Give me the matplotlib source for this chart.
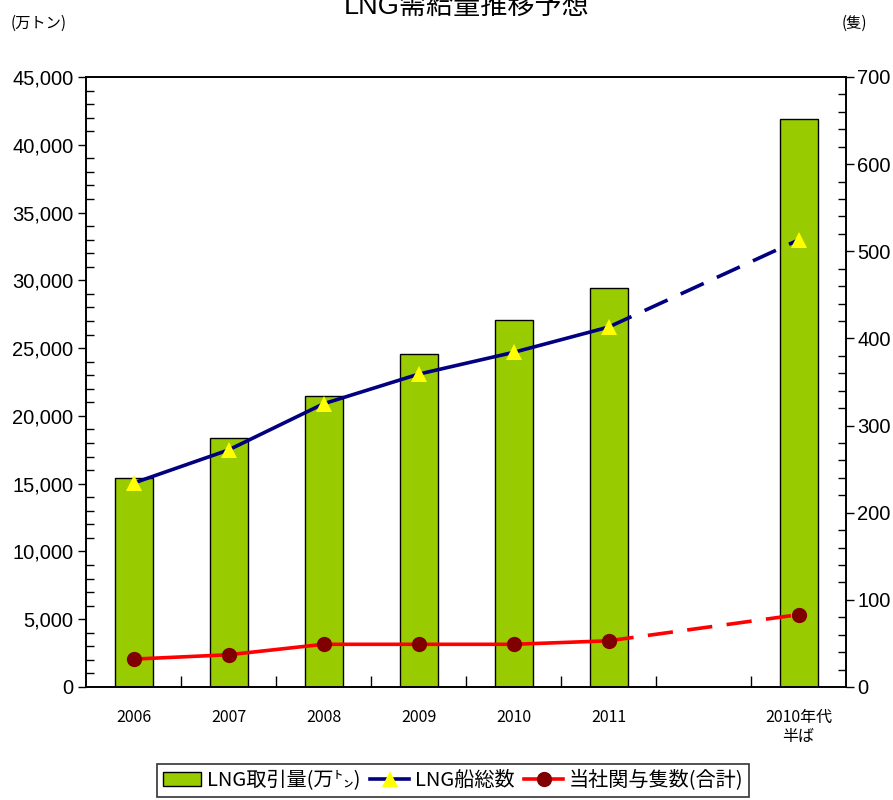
import matplotlib
matplotlib.use("Agg")
import matplotlib.pyplot as plt
from matplotlib.patches import Patch
from matplotlib.lines import Line2D
from matplotlib.ticker import MultipleLocator, FuncFormatter

plt.rcParams['font.family'] = ['Liberation Sans', 'Noto Sans CJK JP', 'DejaVu Sans']
cjk_first = ['Noto Sans CJK JP', 'DejaVu Sans']

categories = ['2006', '2007', '2008', '2009', '2010', '2011', '', '2010年代\n半ば']
bar_pos = [0, 1, 2, 3, 4, 5, 7]
lng_volume = [15400, 18400, 21500, 24600, 27100, 29400, 41900]   # 万トン
lng_ships = [234, 272, 325, 359, 384, 413, 513]                  # 隻
company_ships = [32, 37, 49, 49, 49, 53, 83]                     # 隻

bar_color = '#99CC00'
navy = '#000080'
red = '#FF0000'
dark_red = '#800000'

fig = plt.figure(figsize=(8.93, 8.0), dpi=100)
ax = fig.add_axes([86/893, 1-687/800, (846-86)/893, (687-77)/800])
ax2 = ax.twinx()

ax.bar(bar_pos, lng_volume, width=0.4, color=bar_color, edgecolor='black', linewidth=1.0, zorder=2)

# solid segment for actual years, dashed segment toward the forecast
solid_n = 6
for ys, lc, mk, mc, ms in [(lng_ships, navy, '^', 'yellow', 12),
                           (company_ships, red, 'o', dark_red, 11)]:
    ax2.plot(bar_pos[:solid_n], ys[:solid_n], color=lc, lw=2.6, zorder=3)
    ax2.plot(bar_pos[solid_n-1:], ys[solid_n-1:], color=lc, lw=2.6, ls=(0, (7, 4)), zorder=3)
    ax2.plot(bar_pos, ys, ls='none', marker=mk, color=mc, markersize=ms, markeredgewidth=0, zorder=4)

ax.set_xlim(-0.5, 7.5)
ax.set_ylim(0, 45000)
ax2.set_ylim(0, 700)

ax.set_xticks(range(len(categories)))
ax.set_xticklabels(categories, fontsize=11.5, linespacing=1.1, family=cjk_first)
ax.tick_params(axis='x', which='major', length=0, pad=16)
ax.set_xticks([i + 0.5 for i in range(7)], minor=True)
ax.tick_params(axis='x', which='minor', direction='in', length=8, width=1)

ax.yaxis.set_major_locator(MultipleLocator(5000))
ax.yaxis.set_minor_locator(MultipleLocator(1000))
ax.yaxis.set_major_formatter(FuncFormatter(lambda v, p: f'{int(v):,}'))
ax.tick_params(axis='y', which='major', direction='out', length=6, width=1, labelsize=14.5, pad=3)
ax.tick_params(axis='y', which='minor', direction='in', length=6, width=1)

ax2.yaxis.set_major_locator(MultipleLocator(100))
ax2.yaxis.set_minor_locator(MultipleLocator(20))
ax2.tick_params(axis='y', which='major', direction='out', length=6, width=1, labelsize=14.5, pad=2)
ax2.tick_params(axis='y', which='minor', direction='in', length=6, width=1)

for a in (ax, ax2):
    for s in a.spines.values():
        s.set_linewidth(1.2)

fig.text(0.522, 1-14/800, 'LNG需給量推移予想', ha='center', va='baseline', fontsize=19.5)
fig.text(11/893, 1-28/800, '(万トン)', ha='left', va='baseline', fontsize=11, family=cjk_first)
fig.text(867/893, 1-28/800, '(隻)', ha='right', va='baseline', fontsize=11, family=cjk_first)

handles = [
    Patch(facecolor=bar_color, edgecolor='black', linewidth=1.0),
    Line2D([], [], color=navy, lw=2.6, marker='^', markerfacecolor='yellow',
           markeredgewidth=0, markersize=12),
    Line2D([], [], color=red, lw=2.6, marker='o', markerfacecolor=dark_red,
           markeredgewidth=0, markersize=11),
]
labels = ['LNG取引量(万㌧)', 'LNG船総数', '当社関与隻数(合計)']
leg = fig.legend(handles, labels, loc='upper center', bbox_to_anchor=(453/893, 1-764/800),
                 ncol=3, frameon=True, fancybox=False, edgecolor='black',
                 prop={'family': cjk_first, 'size': 14.5},
                 handlelength=1.9, handletextpad=0.3, columnspacing=0.5, borderpad=0.3,
                 borderaxespad=0)
leg.get_frame().set_linewidth(1.2)

fig.savefig('out.png', dpi=100)
